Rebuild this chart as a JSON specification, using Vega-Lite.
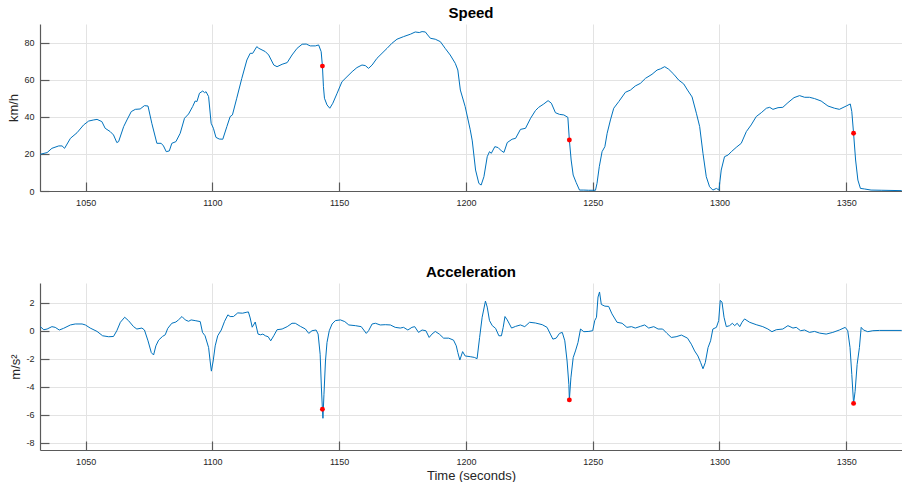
{
"$schema":"https://vega.github.io/schema/vega-lite/v6.json",
"background":"white",
"padding":{"left":7,"top":6,"right":0,"bottom":0},
"spacing":58,
"datasets":{
"speed":[
{"t":1032.1,"v":19.8},{"t":1034.8,"v":20.7},{"t":1036.7,"v":23},{"t":1039.4,"v":24.3},{"t":1040.7,"v":24.3},{"t":1041.7,"v":23},{"t":1044,"v":28.4},{"t":1046.6,"v":31.4},{"t":1049.2,"v":35.6},{"t":1051.2,"v":37.7},{"t":1053.2,"v":38.3},{"t":1054.5,"v":38.6},{"t":1056.4,"v":37.4},{"t":1057.7,"v":33.8},{"t":1059.7,"v":32},{"t":1061,"v":30.2},{"t":1062.3,"v":26.1},{"t":1063,"v":26.6},{"t":1065,"v":34.7},{"t":1066.3,"v":38.3},{"t":1068,"v":42.8},{"t":1069.6,"v":44},{"t":1071.5,"v":44.2},{"t":1073.2,"v":46},{"t":1074.6,"v":45.8},{"t":1076.1,"v":36.5},{"t":1078.1,"v":25.7},{"t":1079.8,"v":25.7},{"t":1080.7,"v":24.3},{"t":1081.8,"v":21.2},{"t":1083,"v":21.6},{"t":1084,"v":25.7},{"t":1085.6,"v":26.6},{"t":1087.3,"v":31.1},{"t":1089,"v":39.2},{"t":1090.6,"v":41.5},{"t":1092.2,"v":45.5},{"t":1093.2,"v":48.5},{"t":1093.9,"v":48.2},{"t":1094.9,"v":52.7},{"t":1096.2,"v":53.9},{"t":1096.9,"v":53},{"t":1097.5,"v":53.5},{"t":1098.5,"v":50.9},{"t":1099.5,"v":36.5},{"t":1100.4,"v":33.8},{"t":1101.4,"v":28.9},{"t":1102.7,"v":28},{"t":1104.1,"v":27.9},{"t":1105.7,"v":34.7},{"t":1107,"v":40.1},{"t":1107.9,"v":41},{"t":1109.6,"v":50},{"t":1111.6,"v":60.7},{"t":1113.6,"v":70.6},{"t":1114.9,"v":74.2},{"t":1115.9,"v":74.2},{"t":1117.5,"v":77.8},{"t":1118.3,"v":76.9},{"t":1120.9,"v":75.1},{"t":1122.2,"v":73.3},{"t":1124.2,"v":67.9},{"t":1125.5,"v":67},{"t":1127.5,"v":68.3},{"t":1129.5,"v":69.2},{"t":1131.4,"v":73.3},{"t":1133.4,"v":76.9},{"t":1135.4,"v":79.1},{"t":1137,"v":79.2},{"t":1138.6,"v":78.2},{"t":1140.6,"v":78.2},{"t":1141.9,"v":78.7},{"t":1142.9,"v":75.1},{"t":1143.4,"v":67.3},{"t":1143.8,"v":56.2},{"t":1144.2,"v":50},{"t":1145.2,"v":46.4},{"t":1146.3,"v":44.6},{"t":1147.5,"v":47.3},{"t":1149.2,"v":52.7},{"t":1151.1,"v":58.9},{"t":1153.1,"v":61.6},{"t":1155.1,"v":64.3},{"t":1157,"v":66.5},{"t":1159,"v":67.9},{"t":1160.3,"v":67.6},{"t":1161.6,"v":66.1},{"t":1163,"v":67.9},{"t":1164.9,"v":71.5},{"t":1166.9,"v":74.2},{"t":1168.9,"v":76.9},{"t":1170.8,"v":79.6},{"t":1172.8,"v":81.8},{"t":1175.4,"v":83.2},{"t":1178.1,"v":84.5},{"t":1180,"v":85.7},{"t":1181.6,"v":85.4},{"t":1182.7,"v":85.9},{"t":1184,"v":85.7},{"t":1184.9,"v":84.1},{"t":1186,"v":82.3},{"t":1187.9,"v":81.8},{"t":1189.9,"v":80.5},{"t":1191.8,"v":76.9},{"t":1193.8,"v":73.3},{"t":1195.8,"v":68.8},{"t":1196.8,"v":65.2},{"t":1197.8,"v":54.4},{"t":1199.7,"v":45.5},{"t":1201.7,"v":33},{"t":1202.5,"v":27},{"t":1203.8,"v":11.3},{"t":1205.1,"v":4.1},{"t":1206,"v":3.2},{"t":1207.1,"v":7.7},{"t":1208.4,"v":18.5},{"t":1209.3,"v":21.2},{"t":1210,"v":20.3},{"t":1211.4,"v":23.9},{"t":1212.7,"v":23.4},{"t":1214,"v":21.6},{"t":1215,"v":20.8},{"t":1216.3,"v":26.1},{"t":1218.2,"v":27.9},{"t":1219.6,"v":28.4},{"t":1221.5,"v":33.2},{"t":1223.5,"v":33.8},{"t":1225.5,"v":39.2},{"t":1227.4,"v":43.3},{"t":1228.7,"v":45.1},{"t":1230.7,"v":46.9},{"t":1232.4,"v":48.7},{"t":1233.7,"v":47.3},{"t":1235.3,"v":42.2},{"t":1236.9,"v":41.3},{"t":1238.6,"v":41},{"t":1240.2,"v":39.7},{"t":1240.8,"v":27.5},{"t":1241.5,"v":16.7},{"t":1242.3,"v":8.6},{"t":1243.5,"v":4.5},{"t":1244.8,"v":0.5},{"t":1246.5,"v":0.5},{"t":1248.4,"v":0.4},{"t":1251.1,"v":0.4},{"t":1251.7,"v":4.1},{"t":1252.6,"v":13.1},{"t":1253.7,"v":21.2},{"t":1254.8,"v":23.9},{"t":1255.7,"v":31.1},{"t":1257,"v":38.3},{"t":1258.3,"v":44.6},{"t":1260.3,"v":48.2},{"t":1262.9,"v":53.2},{"t":1264.9,"v":54.4},{"t":1266.8,"v":56.6},{"t":1268.8,"v":58},{"t":1270.8,"v":60.7},{"t":1273.4,"v":62.9},{"t":1275.4,"v":65.2},{"t":1276.7,"v":65.8},{"t":1278.4,"v":67},{"t":1280,"v":65.6},{"t":1282,"v":62.9},{"t":1283.9,"v":59.8},{"t":1285.9,"v":57.7},{"t":1287.4,"v":54.4},{"t":1289.2,"v":50.7},{"t":1290.9,"v":41.9},{"t":1292.2,"v":34.7},{"t":1293.5,"v":20.3},{"t":1294.8,"v":7.7},{"t":1296.1,"v":2.3},{"t":1297.4,"v":0.5},{"t":1298.8,"v":1.4},{"t":1299.8,"v":0.5},{"t":1300.7,"v":11.3},{"t":1302,"v":18.5},{"t":1303.4,"v":19.4},{"t":1304.7,"v":21.2},{"t":1306.6,"v":23.5},{"t":1308.6,"v":25.7},{"t":1310.6,"v":32},{"t":1312.5,"v":35.6},{"t":1314.5,"v":40.1},{"t":1316.5,"v":42.2},{"t":1318.5,"v":44.6},{"t":1319.8,"v":45.1},{"t":1321.1,"v":44},{"t":1323.1,"v":44.9},{"t":1325,"v":45.1},{"t":1327,"v":47.6},{"t":1329.4,"v":50.3},{"t":1331.6,"v":51.4},{"t":1333.6,"v":50.5},{"t":1335.5,"v":50.5},{"t":1337.5,"v":49.8},{"t":1340.1,"v":48.5},{"t":1342.8,"v":45.8},{"t":1345.4,"v":44.6},{"t":1347.3,"v":44},{"t":1350,"v":45.8},{"t":1351.6,"v":46.9},{"t":1352.2,"v":42.8},{"t":1352.9,"v":31.1},{"t":1353.7,"v":16.7},{"t":1354.6,"v":5.9},{"t":1355.6,"v":1.4},{"t":1357.2,"v":1.1},{"t":1359.8,"v":0.5},{"t":1363.8,"v":0.4},{"t":1371.9,"v":0.2}
],
"accel":[
{"t":1032.1,"a":0.29},{"t":1033.5,"a":0.07},{"t":1034.8,"a":0.12},{"t":1036.7,"a":0.29},{"t":1038,"a":0.24},{"t":1039.6,"a":0.05},{"t":1041.3,"a":0.17},{"t":1044,"a":0.41},{"t":1045.9,"a":0.48},{"t":1048.6,"a":0.48},{"t":1049.9,"a":0.41},{"t":1051.8,"a":0.19},{"t":1054.5,"a":-0.05},{"t":1056.7,"a":-0.36},{"t":1059.1,"a":-0.43},{"t":1061,"a":-0.41},{"t":1062.3,"a":0},{"t":1063.7,"a":0.6},{"t":1065.4,"a":0.96},{"t":1066.9,"a":0.72},{"t":1068.9,"a":0.29},{"t":1070.2,"a":0.12},{"t":1072.2,"a":0.19},{"t":1073.2,"a":0.05},{"t":1074.6,"a":-0.72},{"t":1075.9,"a":-1.56},{"t":1076.8,"a":-1.73},{"t":1077.7,"a":-1.08},{"t":1078.8,"a":-0.67},{"t":1080.3,"a":-0.41},{"t":1081.4,"a":-0.29},{"t":1082.4,"a":0.17},{"t":1084,"a":0.53},{"t":1085.6,"a":0.62},{"t":1086.6,"a":0.77},{"t":1088,"a":1.01},{"t":1089.3,"a":0.77},{"t":1090.6,"a":0.67},{"t":1091.6,"a":0.77},{"t":1093.2,"a":0.72},{"t":1095.2,"a":0.65},{"t":1096.1,"a":-0.12},{"t":1097.1,"a":-0.36},{"t":1098.5,"a":-1.2},{"t":1099.1,"a":-2.16},{"t":1099.6,"a":-2.88},{"t":1100.3,"a":-2.16},{"t":1101.1,"a":-1.08},{"t":1102.1,"a":-0.36},{"t":1103.5,"a":0.05},{"t":1104.8,"a":0.67},{"t":1106.1,"a":1.13},{"t":1107,"a":1.01},{"t":1108.3,"a":1.01},{"t":1110,"a":1.27},{"t":1111.9,"a":1.25},{"t":1113.6,"a":1.32},{"t":1114.2,"a":1.34},{"t":1114.9,"a":0.91},{"t":1115.7,"a":0.25},{"t":1116.9,"a":0.62},{"t":1118,"a":-0.24},{"t":1119,"a":-0.29},{"t":1119.9,"a":-0.24},{"t":1120.9,"a":-0.36},{"t":1122,"a":-0.43},{"t":1123,"a":-0.72},{"t":1124.2,"a":-0.36},{"t":1125.5,"a":0.07},{"t":1127.5,"a":0.12},{"t":1129.5,"a":0.29},{"t":1131.4,"a":0.53},{"t":1132.7,"a":0.53},{"t":1134.7,"a":0.31},{"t":1136.7,"a":0.12},{"t":1138,"a":-0.19},{"t":1139.3,"a":0},{"t":1140.9,"a":0.05},{"t":1141.7,"a":-0.24},{"t":1142.5,"a":-1.68},{"t":1143,"a":-4.08},{"t":1143.4,"a":-5.6},{"t":1143.6,"a":-6.24},{"t":1144,"a":-4.56},{"t":1144.6,"a":-2.16},{"t":1145.2,"a":-0.84},{"t":1146.1,"a":0},{"t":1147.2,"a":0.48},{"t":1148.5,"a":0.72},{"t":1150.5,"a":0.77},{"t":1152.2,"a":0.65},{"t":1153.8,"a":0.41},{"t":1156.4,"a":0.36},{"t":1158.7,"a":0.29},{"t":1160.7,"a":-0.19},{"t":1161.6,"a":0},{"t":1163,"a":0.48},{"t":1164.3,"a":0.53},{"t":1166.2,"a":0.41},{"t":1168.2,"a":0.43},{"t":1170.2,"a":0.41},{"t":1172.1,"a":0.24},{"t":1174.1,"a":0.19},{"t":1175.4,"a":0.24},{"t":1177.1,"a":0.05},{"t":1178.7,"a":0.24},{"t":1179.8,"a":0.29},{"t":1181.3,"a":-0.12},{"t":1182.7,"a":0.05},{"t":1184.2,"a":0},{"t":1185.5,"a":-0.48},{"t":1186.6,"a":-0.24},{"t":1187.9,"a":-0.05},{"t":1189.5,"a":-0.24},{"t":1191.2,"a":-0.53},{"t":1193.2,"a":-0.53},{"t":1195.1,"a":-0.67},{"t":1196.2,"a":-1.08},{"t":1196.8,"a":-1.56},{"t":1197.6,"a":-2.09},{"t":1198.7,"a":-1.49},{"t":1199.7,"a":-1.8},{"t":1201.7,"a":-1.85},{"t":1203.3,"a":-1.9},{"t":1204.4,"a":-1.99},{"t":1205.4,"a":-0.48},{"t":1206.4,"a":0.96},{"t":1207.7,"a":2.11},{"t":1208.4,"a":1.68},{"t":1209.3,"a":0.72},{"t":1210.4,"a":0.36},{"t":1211.7,"a":0.17},{"t":1213,"a":-0.36},{"t":1214,"a":-0.36},{"t":1214.7,"a":0.24},{"t":1215.4,"a":1.01},{"t":1216.3,"a":0.77},{"t":1218,"a":0.19},{"t":1219.6,"a":0.31},{"t":1221.5,"a":0.41},{"t":1223.2,"a":0.29},{"t":1225.1,"a":0.6},{"t":1227.4,"a":0.55},{"t":1230.1,"a":0.43},{"t":1232,"a":0.24},{"t":1233.3,"a":-0.24},{"t":1234.3,"a":-0.6},{"t":1235.6,"a":-0.53},{"t":1236.9,"a":-0.19},{"t":1238,"a":-0.12},{"t":1239,"a":-0.72},{"t":1239.9,"a":-2.16},{"t":1240.6,"a":-3.84},{"t":1240.8,"a":-4.93},{"t":1241.4,"a":-3.36},{"t":1242.3,"a":-1.92},{"t":1243.2,"a":-1.44},{"t":1244.2,"a":-0.84},{"t":1245.2,"a":0.12},{"t":1246.5,"a":-0.07},{"t":1248.5,"a":-0.05},{"t":1250,"a":0},{"t":1250.8,"a":0.72},{"t":1251.5,"a":0.96},{"t":1252.1,"a":2.4},{"t":1252.7,"a":2.76},{"t":1253.4,"a":1.87},{"t":1254.8,"a":1.75},{"t":1256.3,"a":1.73},{"t":1257.6,"a":1.2},{"t":1259.6,"a":0.6},{"t":1261.6,"a":0.53},{"t":1263.5,"a":0.24},{"t":1265.3,"a":0.29},{"t":1266.8,"a":0.19},{"t":1268.8,"a":0.31},{"t":1270.5,"a":0.41},{"t":1272.1,"a":0.19},{"t":1274.1,"a":0.29},{"t":1275.8,"a":0.12},{"t":1277.6,"a":0.12},{"t":1279.3,"a":-0.19},{"t":1281,"a":-0.48},{"t":1282.9,"a":-0.43},{"t":1285,"a":-0.31},{"t":1287.4,"a":-0.53},{"t":1288.9,"a":-0.96},{"t":1290.2,"a":-1.44},{"t":1291.5,"a":-1.8},{"t":1292.6,"a":-2.28},{"t":1293.5,"a":-2.71},{"t":1294.4,"a":-2.28},{"t":1295.5,"a":-1.2},{"t":1296.5,"a":-0.72},{"t":1297.4,"a":0.12},{"t":1298.8,"a":0.24},{"t":1299.7,"a":0.72},{"t":1300.3,"a":2.16},{"t":1301,"a":2.04},{"t":1301.8,"a":0.96},{"t":1302.7,"a":0.29},{"t":1304,"a":0.36},{"t":1305.1,"a":0.53},{"t":1306,"a":0.36},{"t":1307,"a":0.53},{"t":1308,"a":0.29},{"t":1308.9,"a":0.6},{"t":1309.9,"a":0.84},{"t":1311.9,"a":0.6},{"t":1314.5,"a":0.43},{"t":1317.1,"a":0.29},{"t":1319.1,"a":0.12},{"t":1320.7,"a":-0.07},{"t":1322.4,"a":0.07},{"t":1325,"a":0.12},{"t":1327,"a":0.36},{"t":1329,"a":0.19},{"t":1330.3,"a":0.24},{"t":1332,"a":0},{"t":1333.6,"a":0.05},{"t":1335.5,"a":-0.12},{"t":1337.5,"a":-0.05},{"t":1339.5,"a":-0.17},{"t":1342.1,"a":-0.24},{"t":1344.7,"a":-0.12},{"t":1347.3,"a":0.05},{"t":1349.6,"a":0.24},{"t":1350.6,"a":0},{"t":1351.5,"a":-1.2},{"t":1352.2,"a":-3.12},{"t":1352.9,"a":-5.18},{"t":1353.5,"a":-4.32},{"t":1354.3,"a":-2.4},{"t":1355.2,"a":-1.2},{"t":1355.9,"a":0.24},{"t":1356.8,"a":0.05},{"t":1358.5,"a":-0.07},{"t":1360.5,"a":0},{"t":1363.1,"a":0.02},{"t":1371.9,"a":0.02}
],
"events":[
{"t":1143.4,"v":67.3,"a":-5.6},{"t":1240.8,"v":27.5,"a":-4.93},{"t":1352.9,"v":31.1,"a":-5.18}
]
},
"config":{
"view":{"stroke":null},
"font":"Liberation Sans",
"axis":{"labelFont":"Liberation Sans","labelFontSize":9,"labelColor":"#262626","labelOverlap":false,"tickCount":12,"titleFont":"Liberation Sans","titleFontSize":13,"titleFontWeight":"normal","titleColor":"#262626","gridColor":"#e3e3e3","gridWidth":1,"domainColor":"#5a5a5a","domainWidth":1.2,"tickColor":"#5a5a5a","tickWidth":1.2,"tickSize":-9},
"axisX":{"labelPadding":16,"titlePadding":3},
"axisY":{"labelPadding":15,"titlePadding":3},
"title":{"font":"Liberation Sans","fontSize":15,"fontWeight":"bold","color":"#000000","offset":3,"anchor":"middle"}
},
"vconcat":[
{"title":"Speed","width":862,"height":167,
"layer":[
{"data":{"name":"speed"},"mark":{"type":"line","color":"#0072BD","strokeWidth":1,"clip":true},
"encoding":{"x":{"field":"t","type":"quantitative","scale":{"domain":[1032,1372],"nice":false,"zero":false},"axis":{"values":[1050,1100,1150,1200,1250,1300,1350],"tickCount":12,"format":"d","title":null}},
"y":{"field":"v","type":"quantitative","scale":{"domain":[0,90],"nice":false,"zero":false},"axis":{"values":[0,20,40,60,80],"tickCount":12,"format":"d","title":"km/h"}}}},
{"data":{"name":"events"},"mark":{"type":"circle","color":"#ff0000","size":24,"opacity":1},
"encoding":{"x":{"field":"t","type":"quantitative"},"y":{"field":"v","type":"quantitative"}}}
]},
{"title":"Acceleration","width":862,"height":167,
"layer":[
{"data":{"name":"accel"},"mark":{"type":"line","color":"#0072BD","strokeWidth":1,"clip":true},
"encoding":{"x":{"field":"t","type":"quantitative","scale":{"domain":[1032,1372],"nice":false,"zero":false},"axis":{"values":[1050,1100,1150,1200,1250,1300,1350],"tickCount":12,"format":"d","title":"Time (seconds)"}},
"y":{"field":"a","type":"quantitative","scale":{"domain":[-8.5,3.4],"nice":false,"zero":false},"axis":{"values":[-8,-6,-4,-2,0,2],"tickCount":12,"format":"d","title":"m/s²","labelExpr":"replace(datum.label, '\u2212', '-')"}}}},
{"data":{"name":"events"},"mark":{"type":"circle","color":"#ff0000","size":24,"opacity":1},
"encoding":{"x":{"field":"t","type":"quantitative"},"y":{"field":"a","type":"quantitative"}}}
]}
]
}
